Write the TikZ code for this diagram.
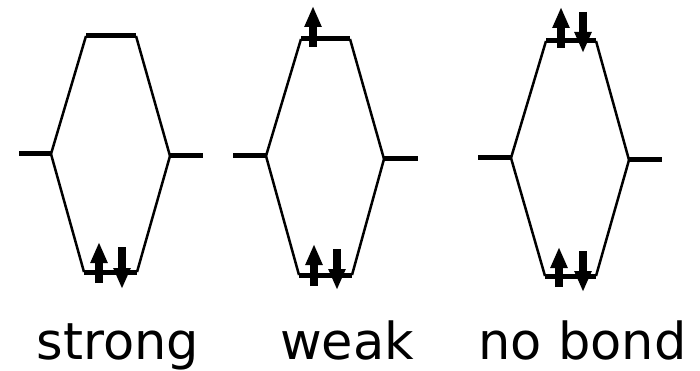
\documentclass[tikz,border=0pt]{standalone}
\usepackage{fontspec}
\setmainfont{DejaVu Sans}
\usetikzlibrary{arrows.meta}
\tikzset{
  level/.style={line width=5pt},
  link/.style={line width=2.5pt, line join=miter},
  spin/.style={line width=8pt, -{Triangle[width=16pt,length=21pt]}},
  lbl/.style={anchor=base, inner sep=0pt, font=\fontsize{51}{60}\selectfont}
}
\begin{document}
\begin{tikzpicture}[x=1pt,y=-1pt]
\useasboundingbox (0,0) rectangle (700,371);
% ---------- strong ----------
\coordinate (L1a) at (19,154); \coordinate (L1b) at (51,154);
\coordinate (R1a) at (170,156); \coordinate (R1b) at (203,156);
\coordinate (T1a) at (86,36); \coordinate (T1b) at (136,36);
\coordinate (B1a) at (84,272); \coordinate (B1b) at (137,272);
\draw[link] (L1b) -- (T1a); \draw[link] (T1b) -- (R1a);
\draw[link] (L1b) -- (B1a); \draw[link] (B1b) -- (R1a);
\draw[level] (L1a) -- (L1b); \draw[level] (R1a) -- (R1b);
\draw[level] (T1a) -- (T1b); \draw[level] (B1a) -- (B1b);
\coordinate (u1s) at (99,283); \coordinate (u1e) at (99,242);
\coordinate (d1s) at (122,247); \coordinate (d1e) at (122,289);
\draw[spin] (u1s) -- (u1e); \draw[spin] (d1s) -- (d1e);
% ---------- weak ----------
\coordinate (L2a) at (233,156); \coordinate (L2b) at (266,156);
\coordinate (R2a) at (384,159); \coordinate (R2b) at (418,159);
\coordinate (T2a) at (301,39); \coordinate (T2b) at (350,39);
\coordinate (B2a) at (299,275); \coordinate (B2b) at (352,275);
\draw[link] (L2b) -- (T2a); \draw[link] (T2b) -- (R2a);
\draw[link] (L2b) -- (B2a); \draw[link] (B2b) -- (R2a);
\draw[level] (L2a) -- (L2b); \draw[level] (R2a) -- (R2b);
\draw[level] (T2a) -- (T2b); \draw[level] (B2a) -- (B2b);
\coordinate (t2s) at (313,47); \coordinate (t2e) at (313,6);
\coordinate (u2s) at (314,286); \coordinate (u2e) at (314,244);
\coordinate (d2s) at (337,249); \coordinate (d2e) at (337,290);
\draw[spin] (t2s) -- (t2e);
\draw[spin] (u2s) -- (u2e); \draw[spin] (d2s) -- (d2e);
% ---------- no bond ----------
\coordinate (L3a) at (478,158); \coordinate (L3b) at (511,158);
\coordinate (R3a) at (629,160); \coordinate (R3b) at (662,160);
\coordinate (T3a) at (546,41); \coordinate (T3b) at (596,41);
\coordinate (B3a) at (545,276); \coordinate (B3b) at (596,276);
\draw[link] (L3b) -- (T3a); \draw[link] (T3b) -- (R3a);
\draw[link] (L3b) -- (B3a); \draw[link] (B3b) -- (R3a);
\draw[level] (L3a) -- (L3b); \draw[level] (R3a) -- (R3b);
\draw[level] (T3a) -- (T3b); \draw[level] (B3a) -- (B3b);
\coordinate (tu3s) at (561,48); \coordinate (tu3e) at (561,7);
\coordinate (td3s) at (583,12); \coordinate (td3e) at (583,53);
\coordinate (u3s) at (559,287); \coordinate (u3e) at (559,247);
\coordinate (d3s) at (583,251); \coordinate (d3e) at (583,292);
\draw[spin] (tu3s) -- (tu3e); \draw[spin] (td3s) -- (td3e);
\draw[spin] (u3s) -- (u3e); \draw[spin] (d3s) -- (d3e);
% ---------- labels ----------
\node[lbl] (strong) at (118,359) {strong};
\node[lbl] (weak) at (347,359) {weak};
\node[lbl] (nobond) at (582.5,359) {no bond};
\end{tikzpicture}
\end{document}
